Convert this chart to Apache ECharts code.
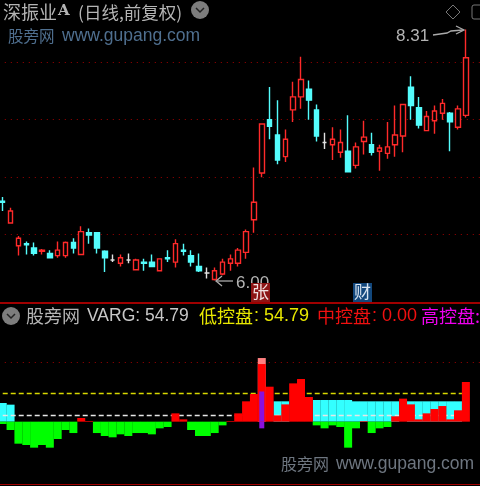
<!DOCTYPE html>
<html>
<head>
<meta charset="utf-8">
<style>
html,body{margin:0;padding:0;background:#000;}
#main{width:480px;height:486px;}
</style>
<script src="https://cdn.jsdelivr.net/npm/echarts@6/dist/echarts.min.js"></script>
</head>
<body>
<div id="main"></div>
<script>
// K线数据
var opens = [6.73,6.53,6.32,6.34,6.30,6.27,6.25,6.23,6.23,6.35,6.24,6.44,6.44,6.27,6.19,6.16,6.19,6.10,6.17,6.17,
    6.09,6.21,6.17,6.28,6.23,6.13,6.07,6.01,6.06,6.16,6.16,6.26,6.56,6.99,7.48,7.34,7.14,7.57,7.69,7.76,
    7.57,7.27,7.25,7.18,7.19,7.06,7.28,7.25,7.19,7.17,7.25,7.33,7.78,7.59,7.38,7.47,7.54,7.54,7.41,7.52];
var closes = [6.72,6.64,6.39,6.33,6.25,6.28,6.21,6.28,6.35,6.30,6.45,6.42,6.30,6.21,6.19,6.21,6.19,6.19,6.16,6.13,
    6.20,6.20,6.34,6.27,6.17,6.09,6.07,6.09,6.17,6.20,6.28,6.45,6.72,7.44,7.42,7.11,7.30,7.69,7.85,7.66,
    7.33,7.27,7.30,7.27,7.00,7.23,7.32,7.18,7.22,7.23,7.34,7.62,7.61,7.43,7.51,7.56,7.63,7.46,7.58,8.05];
var lows = [6.64,6.53,6.23,6.24,6.23,6.24,6.21,6.21,6.21,6.25,6.24,6.34,6.25,6.08,6.17,6.13,6.16,6.10,6.09,6.13,
    6.09,6.17,6.12,6.23,6.13,6.08,6.02,6.00,6.05,6.09,6.13,6.20,6.44,6.95,7.30,7.07,7.09,7.46,7.58,7.48,
    7.28,7.21,7.11,7.13,7.00,7.03,7.16,7.15,7.01,7.12,7.14,7.18,7.48,7.40,7.38,7.35,7.48,7.19,7.39,7.50];
var highs = [6.77,6.67,6.41,6.36,6.35,6.29,6.28,6.36,6.36,6.39,6.50,6.48,6.44,6.28,6.24,6.24,6.25,6.20,6.20,6.24,
    6.20,6.28,6.38,6.34,6.28,6.25,6.12,6.12,6.20,6.24,6.30,6.47,7.04,7.44,7.78,7.66,7.39,7.83,8.06,7.84,
    7.62,7.36,7.41,7.39,7.52,7.27,7.47,7.36,7.25,7.46,7.61,7.62,7.88,7.69,7.56,7.61,7.67,7.55,7.61,8.31];
var priceLines = [8.006, 7.477, 6.953, 6.429];

// 副图数据
var cyanBars = [25.8,23.5,null,null,null,null,null,null,null,null,null,null,null,null,null,null,null,null,null,null,
    null,null,null,null,null,null,null,null,null,null,null,null,null,null,null,28.1,28.1,null,null,null,
    29.9,29.9,29.9,29.9,29.9,28.1,28.1,28.1,28.1,28.1,28.1,null,28.1,28.1,28.1,28.1,28.1,28.1,28.1,null];
var redBars = [null,null,null,null,null,null,null,null,null,null,5.1,0.9,null,null,null,null,null,null,null,null,
    null,null,11.5,3.2,null,null,null,null,null,0.9,11.5,28.1,38.2,79.6,48.3,8.7,23.9,52.9,58.9,34.1,
    null,null,null,null,null,null,0.9,null,null,null,7.4,31.8,23.9,3.2,11.5,17.5,21.6,3.2,15.7,54.79];
var greenBars = [-3.2,-11.5,-30.4,-32.2,-35.9,-32.2,-35.9,-23.9,-11.5,-15.7,null,null,-15.7,-19.8,-21.6,-17.5,-19.8,-15.7,-15.7,-17.5,
    -9.2,-7.4,null,null,-11.5,-19.8,-19.8,-15.7,-5.1,null,null,null,null,null,null,null,null,null,null,null,
    -5.1,-9.2,-5.1,-7.4,-35.9,-9.2,null,-15.7,-9.2,-7.4,null,null,null,null,null,null,null,null,null,null];
var pinkBar = {33: 87.9};
var purpleTop = {33: 41.7};
var purpleBottom = {33: -9.2};
var dotLine = 81.5, yellowLine = 39, whiteLine = 8.3;

var categories = [];
var candleData = [];
var pinkBars = [], purpleUp = [], purpleDown = [];
for (var i = 0; i < opens.length; i++) {
    categories.push(i);
    candleData.push([opens[i], closes[i], lows[i], highs[i]]);
    pinkBars.push(pinkBar[i] === undefined ? null : pinkBar[i]);
    purpleUp.push(purpleTop[i] === undefined ? null : purpleTop[i]);
    purpleDown.push(purpleBottom[i] === undefined ? null : purpleBottom[i]);
}
// 右边留两格空白，虚线一直画到边上
categories.push(60, 61);

var cnFont = '"Noto Sans CJK SC", sans-serif';
var numFont = '"Liberation Sans", sans-serif';
var RED = '#ff2a2a', CYAN = '#54fcfc';

function label(x, y, text, color, size, family, weight) {
    return {
        type: 'text', x: x, y: y, z: 20,
        style: {text: text, fill: color, font: (weight ? weight + ' ' : '') + size + 'px ' + (family || cnFont), textVerticalAlign: 'middle'}
    };
}
function chevron(x, y) {
    return [
        {type: 'circle', z: 20, shape: {cx: x, cy: y, r: 9}, style: {fill: '#7d7d7d'}},
        {type: 'polyline', z: 21, shape: {points: [[x - 4, y - 2], [x, y + 2], [x + 4, y - 2]]}, style: {stroke: '#222', lineWidth: 1.5, fill: null}}
    ];
}
function arrow(points, head) {
    return [
        {type: 'polyline', z: 20, shape: {points: points}, style: {stroke: '#aaa', lineWidth: 1.3, fill: null}},
        {type: 'polyline', z: 20, shape: {points: head}, style: {stroke: '#aaa', lineWidth: 1.3, fill: null}}
    ];
}

var graphics = [
    label(3, 12, '深振业', '#b4b4b4', 18),
    label(58, 11, 'A', '#b4b4b4', 15, '"DejaVu Serif", serif', 'bold'),
    label(78, 12, '(日线,前复权)', '#b4b4b4', 17.5),
    label(8, 36, '股旁网', '#4f6f8f', 15.5),
    label(62, 36, 'www.gupang.com', '#4f6f8f', 17.5, numFont),
    label(396, 36, '8.31', '#b4b4b4', 17, numFont),
    label(236, 283, '6.00', '#b4b4b4', 17, numFont),
    {type: 'polygon', z: 20, shape: {points: [[453, 5], [460, 12], [453, 19], [446, 12]]}, style: {fill: null, stroke: '#777', lineWidth: 1}},
    {type: 'rect', z: 20, shape: {x: 472, y: 5, width: 14, height: 14, r: 2}, style: {fill: null, stroke: '#777', lineWidth: 1}},
    {type: 'rect', z: 20, shape: {x: 251, y: 283, width: 19, height: 19}, style: {fill: '#8c1414'}},
    label(252, 292, '张', '#f0e0e0', 17),
    {type: 'rect', z: 20, shape: {x: 353, y: 283, width: 19, height: 19}, style: {fill: '#12477c'}},
    label(354, 292, '财', '#d8e4f0', 17),
    {type: 'line', z: 20, shape: {x1: 0, y1: 303, x2: 480, y2: 303}, style: {stroke: '#a00000', lineWidth: 2}},
    {type: 'line', z: 20, shape: {x1: 0, y1: 484.5, x2: 480, y2: 484.5}, style: {stroke: '#a00000', lineWidth: 1}},
    label(26, 316, '股旁网', '#b4b4b4', 18),
    label(87, 316, 'VARG: 54.79', '#c8c8c8', 17.5, numFont),
    label(199, 316, '低控盘', '#e8e800', 18),
    label(254, 316, ': 54.79', '#e8e800', 18, numFont),
    label(317, 316, '中控盘', '#f01010', 18),
    label(372, 316, ': 0.00', '#f01010', 18, numFont),
    label(421, 316, '高控盘:', '#f000f0', 18),
    label(281, 464, '股旁网', '#6e7680', 16),
    label(336, 464, 'www.gupang.com', '#6e7680', 17.5, numFont)
];
graphics = graphics.concat(chevron(200, 10), chevron(11, 316));
graphics = graphics.concat(arrow([[433, 35], [447, 33], [451, 31], [463, 30]], [[456, 26], [464, 30], [456, 34]]));
graphics = graphics.concat(arrow([[216, 281], [233, 281]], [[222, 276], [216, 281], [222, 286]]));

// 黄白虚线只画到最后一根K线
function hLine(value, color, dash, z, width) {
    return {
        silent: true, symbol: 'none', z: z, animation: false,
        label: {show: false},
        emphasis: {disabled: true},
        lineStyle: {color: color, type: dash, width: width},
        data: [[{xAxis: 0, yAxis: value}, {xAxis: 59, yAxis: value}]]
    };
}

var priceMark = {
    silent: true, symbol: 'none', z: 1, animation: false,
    label: {show: false},
    lineStyle: {color: '#a00000', type: [1, 5], width: 1},
    data: []
};
for (var j = 0; j < priceLines.length; j++) {
    priceMark.data.push({yAxis: priceLines[j]});
}
var dotMark = {
    silent: true, symbol: 'none', z: 1, animation: false,
    label: {show: false},
    lineStyle: {color: '#a00000', type: [1, 5], width: 1},
    data: [{yAxis: dotLine}]
};

var option = {
    backgroundColor: '#000',
    animation: false,
    graphic: graphics,
    grid: [
        {left: -1.2, width: 486.7, top: 19.7, height: 271.76, outerBoundsMode: 'none'},
        {left: -1.2, width: 486.7, top: 349.27, height: 101.36, outerBoundsMode: 'none'}
    ],
    xAxis: [
        {type: 'category', gridIndex: 0, data: categories, show: false},
        {type: 'category', gridIndex: 1, data: categories, show: false},
        {type: 'category', gridIndex: 1, data: categories, show: false}
    ],
    yAxis: [
        {type: 'value', gridIndex: 0, min: 5.9, max: 8.4, show: false},
        {type: 'value', gridIndex: 1, min: -40, max: 100, show: false}
    ],
    series: [
        {
            type: 'candlestick', xAxisIndex: 0, yAxisIndex: 0, data: candleData, barWidth: 5, z: 3,
            itemStyle: {
                color: '#000', borderColor: RED, color0: CYAN, borderColor0: CYAN,
                borderColorDoji: '#e0e0e0', borderWidth: 1.4
            },
            markLine: priceMark
        },
        {
            type: 'bar', xAxisIndex: 1, yAxisIndex: 1, data: pinkBars, barWidth: 8, barGap: '-100%', z: 2,
            itemStyle: {color: '#ff8080'},
            markLine: dotMark
        },
        {
            type: 'bar', xAxisIndex: 1, yAxisIndex: 1, data: cyanBars, barWidth: 8, barGap: '-100%', z: 2,
            itemStyle: {color: '#33ffff'},
            markLine: hLine(whiteLine, '#e6e6e6', [5, 3], 3, 1.4)
        },
        {
            type: 'bar', xAxisIndex: 1, yAxisIndex: 1, data: redBars, barWidth: 8, barGap: '-100%', z: 4,
            itemStyle: {color: '#ff0000'},
            markLine: hLine(yellowLine, '#d8d800', [5, 3], 1, 1.4)
        },
        {
            type: 'bar', xAxisIndex: 1, yAxisIndex: 1, data: greenBars, barWidth: 8, barGap: '-100%', z: 4,
            itemStyle: {color: '#00ff00'}
        },
        {
            type: 'bar', xAxisIndex: 2, yAxisIndex: 1, data: purpleUp, barWidth: 5, barGap: '-100%', z: 5,
            itemStyle: {color: '#8a10e0'}
        },
        {
            type: 'bar', xAxisIndex: 2, yAxisIndex: 1, data: purpleDown, barWidth: 5, barGap: '-100%', z: 5,
            itemStyle: {color: '#8a10e0'}
        }
    ]
};
var myChart = echarts.init(document.getElementById('main'));
myChart.setOption(option, true);
</script>
</body>
</html>
